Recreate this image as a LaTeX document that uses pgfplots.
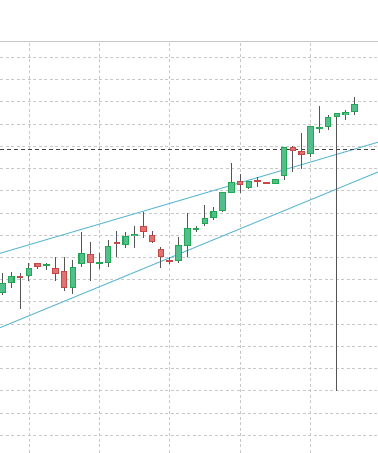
\documentclass[border=0pt]{standalone}
\usepackage{pgfplots}
\usepackage{pgfplotstable}
\pgfplotsset{compat=1.18}
\definecolor{gfill}{RGB}{82,190,140}
\definecolor{gline}{RGB}{34,168,82}
\definecolor{rfill}{RGB}{224,114,114}
\definecolor{rline}{RGB}{200,72,72}
\definecolor{wick}{RGB}{85,85,85}
\definecolor{gridc}{RGB}{200,200,200}
\definecolor{trend}{RGB}{100,186,212}
\definecolor{pline}{RGB}{68,68,68}
\pgfplotstableread{
i o h l c
1 63.86 72.86 62.96 68.36
2 68.36 73.58 66.38 71.64
4 71.51 77.35 69.53 75.11
6 76.46 77.63 74.34 77.04
9 66.11 78.84 63.41 75.56
10 76.91 91.30 75.83 81.85
12 77.35 82.12 74.66 77.63
13 77.35 87.83 75.83 85.14
15 85.45 91.57 84.37 89.63
16 89.50 94.13 84.37 90.53
21 78.52 89.32 77.35 85.45
22 85.14 100.11 80.19 93.37
23 92.33 94.13 91.43 92.92
24 95.03 103.44 94.13 97.59
25 97.59 102.68 96.83 100.74
26 100.88 109.29 100.43 109.29
27 108.84 122.60 108.84 113.78
29 111.09 114.50 110.77 114.50
32 112.88 115.27 112.88 115.27
33 116.62 129.80 114.82 129.52
36 126.38 139.10 125.16 139.10
37 138.21 148.23 136.09 138.52
38 138.52 144.05 137.44 143.02
39 143.02 144.82 19.79 144.82
40 143.92 146.30 141.94 145.27
41 145.27 152.28 144.05 148.86
}\greendata
\pgfplotstableread{
i o h l c
3 71.64 72.86 56.67 70.88
5 77.35 77.35 74.93 75.56
7 75.11 80.05 69.53 72.41
8 74.03 80.05 64.90 66.11
11 81.54 87.07 69.53 77.63
14 86.93 91.88 80.32 86.17
17 94.13 100.56 88.87 91.57
18 90.08 91.88 86.35 87.07
19 83.65 84.82 75.11 80.05
20 78.84 80.32 76.91 78.07
28 114.50 117.38 108.84 112.44
30 114.68 116.03 111.80 114.23
31 113.78 113.78 113.47 113.47
34 129.52 130.11 118.55 127.73
35 127.86 136.09 119.77 126.20
}\reddata
\pgfplotstableread{
x y
0.716 81.85
43.67 131.82
}\trendup
\pgfplotstableread{
x y
0.716 48.39
43.67 118.42
}\trenddown
\pgfplotstableread{
x y
0.716 128.63
43.67 128.63
}\pricel
\begin{document}
\begin{tikzpicture}
\path[use as bounding box] (0,0) rectangle (378bp,453bp);
\begin{axis}[
  at={(0,0)}, anchor=south west,
  scale only axis, width=378bp, height=411.7bp,
  xmin=0.716, xmax=43.67, ymin=-7.96, ymax=177.2,
  axis x line*=top, axis y line*=left,
  x axis line style={draw=gridc, line width=1bp, -},
  y axis line style={draw=none},
  xtick={4,12,20,28,36}, ytick={0,10,...,170},
  xticklabels={}, yticklabels={},
  major tick length=0pt,
  xmajorgrids=true, ymajorgrids=true,
  major grid style={draw=gridc, line width=0.8bp, dash pattern=on 3bp off 2.5bp},
  clip=true,
]
\addplot[trend, line width=1bp, mark=none] table[x=x,y=y] {\trendup};
\addplot[trend, line width=1bp, mark=none] table[x=x,y=y] {\trenddown};
\addplot[pline, line width=1.1bp, dash pattern=on 4bp off 3bp, mark=none] table[x=x,y=y] {\pricel};
% wicks
\addplot[draw=none, mark=none, error bars/.cd, y dir=both, y explicit, error mark=none,
  error bar style={draw=wick, line width=1.1bp, solid}]
  table[x=i, y expr={(\thisrow{h}+\thisrow{l})/2}, y error expr={(\thisrow{h}-\thisrow{l})/2}] {\greendata};
\addplot[draw=none, mark=none, error bars/.cd, y dir=both, y explicit, error mark=none,
  error bar style={draw=wick, line width=1.1bp, solid}]
  table[x=i, y expr={(\thisrow{h}+\thisrow{l})/2}, y error expr={(\thisrow{h}-\thisrow{l})/2}] {\reddata};
% body borders
\addplot[draw=none, mark=none, error bars/.cd, y dir=both, y explicit, error mark=none,
  error bar style={draw=gline, line width=6.6bp, solid}]
  table[x=i, y expr={(\thisrow{o}+\thisrow{c})/2}, y error expr={max(abs(\thisrow{c}-\thisrow{o})/2,0.45)}] {\greendata};
\addplot[draw=none, mark=none, error bars/.cd, y dir=both, y explicit, error mark=none,
  error bar style={draw=rline, line width=6.6bp, solid}]
  table[x=i, y expr={(\thisrow{o}+\thisrow{c})/2}, y error expr={max(abs(\thisrow{c}-\thisrow{o})/2,0.45)}] {\reddata};
% body fills
\addplot[draw=none, mark=none, error bars/.cd, y dir=both, y explicit, error mark=none,
  error bar style={draw=gfill, line width=4.4bp, solid}]
  table[x=i, y expr={(\thisrow{o}+\thisrow{c})/2}, y error expr={max(abs(\thisrow{c}-\thisrow{o})/2-0.5,0)}] {\greendata};
\addplot[draw=none, mark=none, error bars/.cd, y dir=both, y explicit, error mark=none,
  error bar style={draw=rfill, line width=4.4bp, solid}]
  table[x=i, y expr={(\thisrow{o}+\thisrow{c})/2}, y error expr={max(abs(\thisrow{c}-\thisrow{o})/2-0.5,0)}] {\reddata};
\end{axis}
\end{tikzpicture}
\end{document}
